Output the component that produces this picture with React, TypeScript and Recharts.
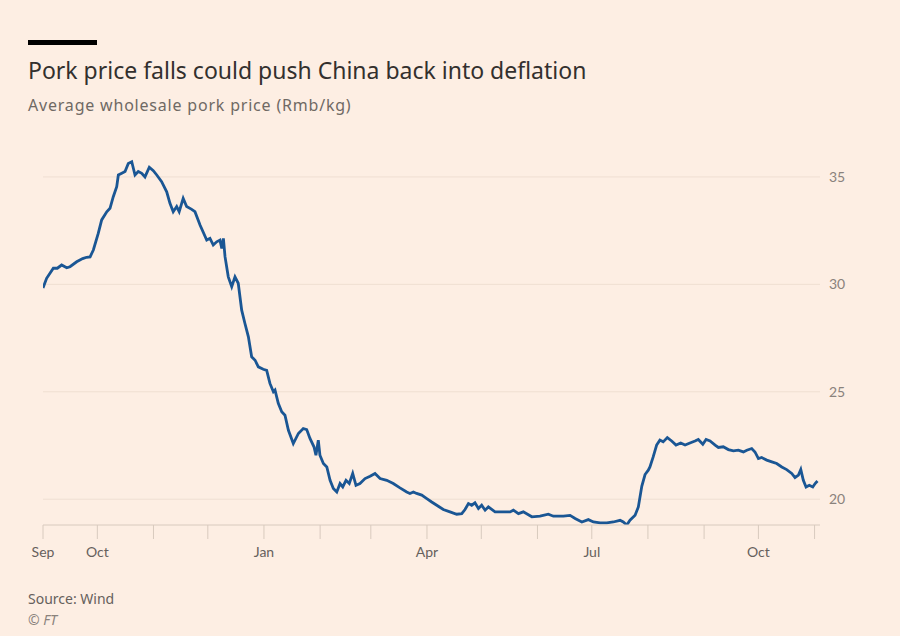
import React from 'react';
import { LineChart, Line, XAxis, YAxis, ReferenceLine } from 'recharts';

// days since 1 Sep 2022
const dayIndex = [
  0, 2.0, 5.7, 7.9, 10.3, 13.1, 14.9, 18.6, 21.9, 24.1, 26.0, 27.8, 30.5, 32.4, 35.2, 37.0, 38.8, 40.7,
  41.6, 43.5, 45.3, 47.1, 49.0, 50.8, 52.6, 54.5, 56.3, 58.7, 60.9, 62.8, 65.5, 68.3, 70.1, 71.9, 73.8,
  75.2, 77.4, 79.3, 82.1, 83.9, 86.7, 90.4, 92.2, 94.0, 95.9, 97.7, 98.7, 99.6, 100.5, 102.3, 104.2,
  106.0, 107.8, 109.7, 111.5, 113.4, 115.2, 117.1, 118.9, 121.6, 123.5, 125.3, 127.2, 128.1, 129.9,
  131.8, 133.6, 135.5, 138.2, 141.0, 143.7, 145.6, 147.4, 149.6, 150.7, 152.0, 152.9, 154.8, 156.7,
  158.5, 160.3, 162.2, 164.0, 165.5, 167.3, 169.1, 171.0, 172.8, 175.0, 177.8, 180.6, 183.3, 186.1,
  189.8, 193.4, 197.1, 200.8, 202.6, 204.5, 206.3, 209.1, 211.9, 214.6, 217.4, 221.0, 224.7, 228.4,
  231.2, 233.0, 234.9, 236.7, 238.5, 240.4, 242.2, 244.1, 245.9, 249.6, 254.2, 257.9, 259.7, 262.5,
  265.2, 269.9, 274.4, 279.0, 281.8, 287.3, 291.0, 293.8, 297.5, 301.1, 303.9, 307.6, 311.3, 314.9,
  318.6, 320.4, 322.3, 324.1, 326.9, 328.7, 330.6, 332.4, 334.2, 335.1, 336.9, 338.8, 340.6, 342.4,
  344.7, 347.1, 349.5, 352.1, 354.5, 357.2, 360.0, 361.8, 364.3, 366.1, 368.3, 371.1, 372.9, 375.6,
  378.4, 381.2, 383.9, 386.7, 388.6, 391.3, 393.1, 395.0, 396.8, 399.6, 402.4, 405.1, 407.9, 410.6,
  413.4, 415.2, 417.1, 418.4, 419.8, 421.3, 423.1, 425.0, 426.3, 427.6,
];

// Rmb/kg
const porkPrice = [
  29.83, 30.28, 30.75, 30.75, 30.9, 30.77, 30.82, 31.05, 31.2, 31.26, 31.28, 31.6, 32.37, 33.0, 33.38, 33.54, 34.08, 34.55,
  35.09, 35.17, 35.25, 35.63, 35.71, 35.09, 35.25, 35.17, 35.0, 35.45, 35.29, 35.09, 34.78, 34.31, 33.77, 33.38, 33.62,
  33.38, 34.0, 33.62, 33.49, 33.38, 32.76, 32.06, 32.14, 31.83, 31.98, 32.06, 31.67, 32.14, 31.29, 30.35, 29.89,
  30.35, 30.05, 28.8, 28.18, 27.56, 26.63, 26.47, 26.16, 26.05, 26.0, 25.39, 25.0, 25.08, 24.46,
  24.07, 23.91, 23.21, 22.59, 23.06, 23.29, 23.24, 22.83, 22.44, 22.05, 22.75, 22.05, 21.66, 21.5,
  20.88, 20.5, 20.34, 20.73, 20.57, 20.88, 20.73, 21.2, 20.65, 20.73, 20.96, 21.07, 21.2, 20.96,
  20.88, 20.73, 20.53, 20.34, 20.27, 20.34, 20.27, 20.19, 20.03, 19.87, 19.72, 19.52, 19.41, 19.3,
  19.33, 19.52, 19.8, 19.72, 19.83, 19.57, 19.72, 19.49, 19.64, 19.41, 19.41, 19.41, 19.49, 19.33,
  19.41, 19.18, 19.21, 19.3, 19.21, 19.21, 19.25, 19.1, 18.94, 19.05, 18.94, 18.9, 18.9, 18.94,
  19.02, 18.94, 18.8, 19.02, 19.25, 19.64, 20.6, 21.15, 21.35, 21.5, 21.97, 22.52, 22.75, 22.67,
  22.87, 22.71, 22.52, 22.62, 22.52, 22.62, 22.71, 22.78, 22.56, 22.78, 22.71, 22.52, 22.41, 22.44,
  22.31, 22.25, 22.28, 22.2, 22.28, 22.36, 22.2, 21.89, 21.94, 21.82, 21.74, 21.66, 21.5, 21.38,
  21.2, 21.01, 21.12, 21.38, 20.88, 20.57, 20.65, 20.57, 20.73, 20.85,
];

// first day of each month, Sep 2022 .. Nov 2023
const monthTicks = [0, 30, 61, 91, 122, 153, 181, 212, 242, 273, 303, 334, 365, 395, 426];
const monthLabels = ['Sep', 'Oct', '', '', 'Jan', '', '', 'Apr', '', '', 'Jul', '', '', 'Oct', ''];
const priceTicks = [20, 25, 30, 35];

const data = dayIndex.map((d, i) => ({ day: d, price: porkPrice[i] }));

const FONT = 'Lato, "Noto Sans", sans-serif';
const TEXT_FONT = '"Noto Sans", Lato, sans-serif';

export default function App() {
  return (
    <div
      style={{
        position: 'absolute',
        left: 0,
        top: 0,
        width: 900,
        height: 636,
        background: '#fdeee3',
        fontFamily: TEXT_FONT,
        overflow: 'hidden',
      }}
    >
      <div style={{ position: 'absolute', left: 28, top: 40, width: 69, height: 5, background: '#000' }} />
      <div style={{ position: 'absolute', left: 28, top: 54, fontSize: 23, color: '#33302e', whiteSpace: 'nowrap' }}>
        Pork price falls could push China back into deflation
      </div>
      <div
        style={{
          position: 'absolute',
          left: 28,
          top: 94,
          fontSize: 16,
          letterSpacing: 0.8,
          color: '#6f6964',
          whiteSpace: 'nowrap',
        }}
      >
        Average wholesale pork price (Rmb/kg)
      </div>

      <div style={{ position: 'absolute', left: 0, top: 0 }}>
        <LineChart width={900} height={580} data={data} margin={{ top: 149, right: 40, left: 43, bottom: 15 }}>
          {priceTicks.map((v) => (
            <ReferenceLine key={v} y={v} stroke="#efdfd2" strokeWidth={1} ifOverflow="extendDomain" />
          ))}
          <XAxis
            dataKey="day"
            type="number"
            domain={[0, 429]}
            ticks={monthTicks}
            tickFormatter={(v: number) => monthLabels[monthTicks.indexOf(v)] ?? ''}
            interval={0}
            height={40}
            tickSize={14}
            tickMargin={8}
            axisLine={{ stroke: '#d8cabe' }}
            tickLine={{ stroke: '#d8cabe' }}
            tick={{ fill: '#66605c', fontSize: 14, fontFamily: FONT }}
            allowDataOverflow
          />
          <YAxis
            orientation="right"
            type="number"
            domain={[18.8, 36.3]}
            ticks={priceTicks}
            width={40}
            axisLine={false}
            tickLine={false}
            tickSize={0}
            tickMargin={9}
            tick={{ fill: '#8a827c', fontSize: 14, fontFamily: FONT, textAnchor: 'start' }}
            allowDataOverflow
          />
          <Line
            type="linear"
            dataKey="price"
            stroke="#1a5694"
            strokeWidth={2.8}
            dot={false}
            isAnimationActive={false}
          />
        </LineChart>
      </div>

      <div style={{ position: 'absolute', left: 28, top: 589, fontSize: 14, color: '#66605c' }}>Source: Wind</div>
      <div style={{ position: 'absolute', left: 28, top: 610, fontSize: 14, color: '#8a827c', fontStyle: 'italic' }}>
        © FT
      </div>
    </div>
  );
}
